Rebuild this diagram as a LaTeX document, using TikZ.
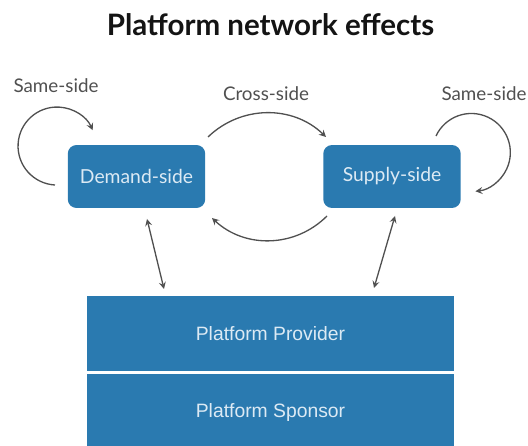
\documentclass[tikz,border=0pt]{standalone}
\usepackage{fontspec}
\setmainfont{Lato}
\newfontfamily\helv{Liberation Sans}

\definecolor{boxblue}{RGB}{42,122,176}
\definecolor{boxtext}{RGB}{220,234,244}
\definecolor{linegray}{RGB}{80,80,80}

\tikzset{
  sidebox/.style={fill=boxblue,rounded corners=5pt,minimum width=2.75cm,minimum height=1.26cm,inner sep=0pt,
    text=boxtext,font=\fontsize{11}{13}\selectfont},
  layerbox/.style={fill=boxblue,minimum width=7.34cm,inner sep=0pt,text=boxtext,font=\helv\fontsize{11}{13}\selectfont},
  effect/.style={text=linegray,font=\fontsize{10.7}{12}\selectfont},
  link/.style={draw=linegray,line width=0.75pt,>=stealth}
}

\begin{document}
\begin{tikzpicture}[x=0.02cm,y=0.02cm]
\useasboundingbox (0,0) rectangle (528,446);
\node[font=\bfseries\fontsize{16.8}{20}\selectfont,text=black!92] (title) at (270.5,421) {Platform network effects};
% the two sides
\node[sidebox] (demand) at (136.5,269.5) {Demand-side};
\node[sidebox] (supply) at (392,269.5) {Supply-side};
% platform layers
\node[layerbox,minimum height=1.5cm] (provider) at (270.5,112.5) {Platform Provider};
\node[layerbox,minimum height=1.56cm] (sponsor) at (270.5,33) {Platform Sponsor};
% labels
\node[effect] (sameL) at (56,360) {Same-side};
\node[effect] (cross) at (266,352) {Cross-side};
\node[effect] (sameR) at (484,352) {Same-side};
% end points of the connectors
\coordinate (dl) at (55,261);
\coordinate (sr) at (436,310);
\coordinate (c1) at (208,309);
\coordinate (c2) at (326,309);
\coordinate (c3) at (327,230);
\coordinate (c4) at (212,228);
\coordinate (d1) at (147,227);
\coordinate (d2) at (164,157);
\coordinate (s1) at (395,230);
\coordinate (s2) at (374,158);
\draw[link,->] (dl) arc[start angle=267,end angle=24,radius=39];
\draw[link,->] (sr) arc[start angle=155,end angle=-84,radius=39];
\draw[link,->] (c1) to[bend left=44] (c2);
\draw[link,->] (c3) to[bend left=44] (c4);
\draw[link,<->] (d1) -- (d2);
\draw[link,<->] (s1) -- (s2);
\end{tikzpicture}
\end{document}
